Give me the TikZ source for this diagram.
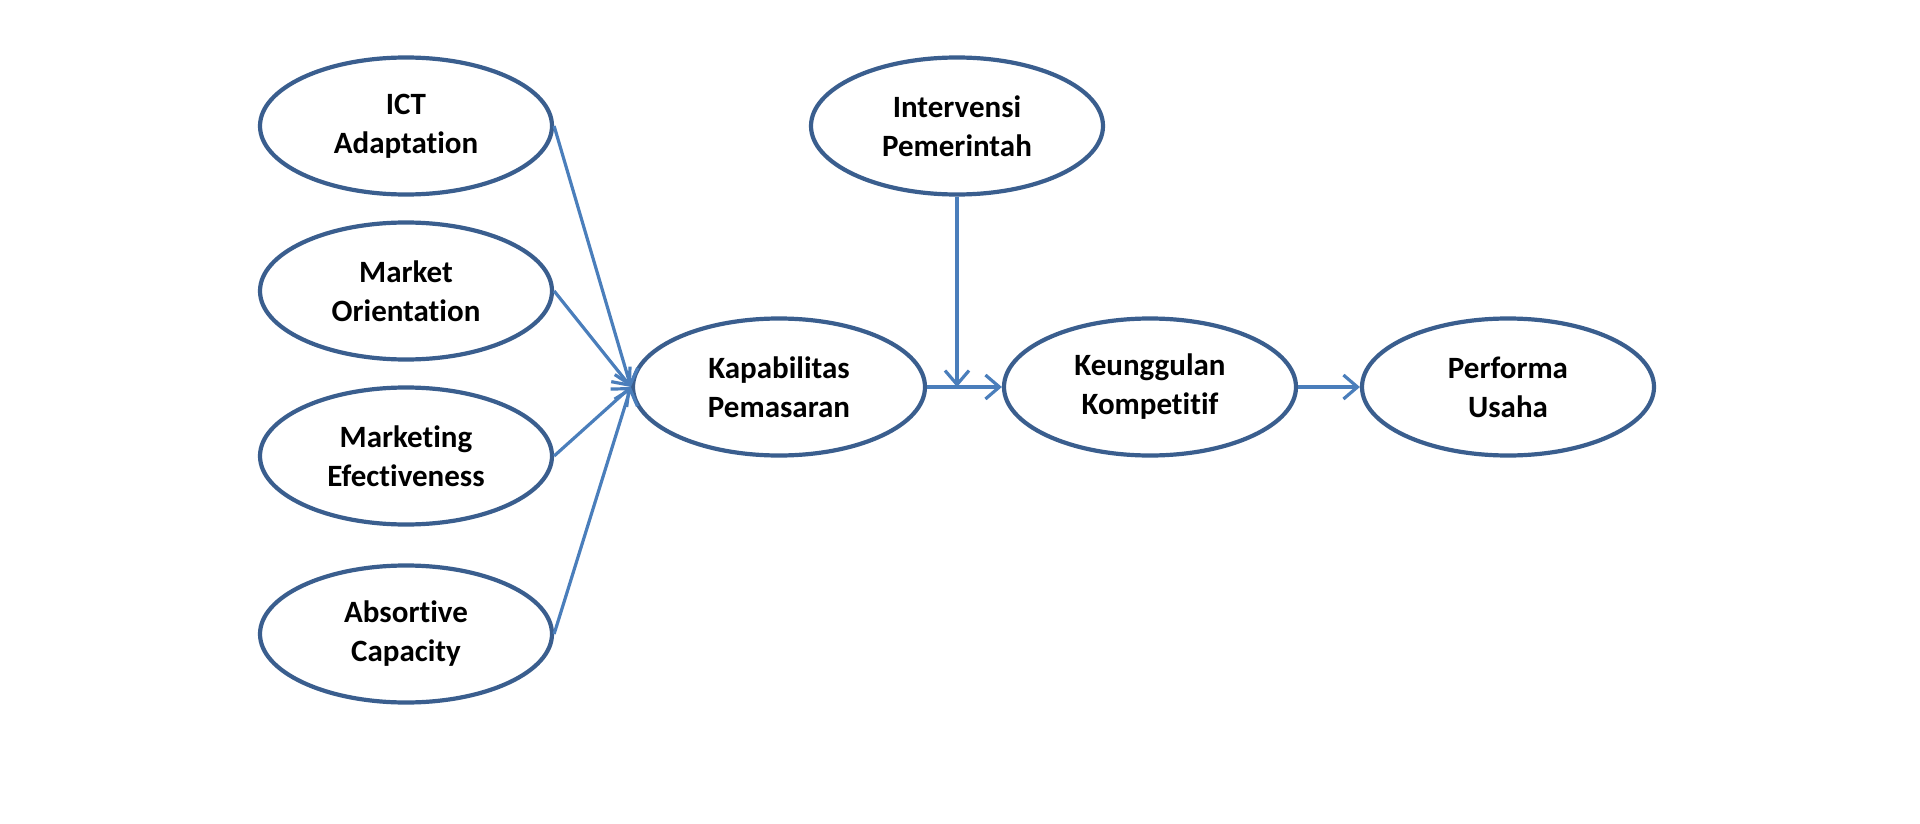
\documentclass[tikz,border=0pt]{standalone}
\usepackage{fontspec}
\setmainfont[Ligatures=NoCommon]{Carlito}
\usetikzlibrary{shapes.geometric,arrows.meta}
\definecolor{ellborder}{RGB}{58,94,142}
\definecolor{arrowblue}{RGB}{74,126,187}
\tikzset{
  var/.style={ellipse, draw=ellborder, line width=4.2pt, fill=white,
    minimum width=292pt, minimum height=137pt, inner sep=0pt, align=center,
    font=\fontsize{31pt}{39pt}\selectfont\bfseries},
  conn/.style={draw=arrowblue, line width=3.2pt,
    -{Straight Barb[length=14pt,width=24pt,line width=3.2pt]}}
}
\begin{document}
\begin{tikzpicture}[x=1pt,y=-1pt]
\useasboundingbox (0,0) rectangle (1920,824);
\fill[white] (0,0) rectangle (1920,824);
\node[var] (ict) at (406,126) {ICT\\Adaptation};
\node[var] (mo) at (406,291) {Market\\Orientation};
\node[var] (me) at (406,456) {Marketing\\Efectiveness};
\node[var] (ac) at (406,634) {Absortive\\Capacity};
\node[var] (kap) at (779,387) {Kapabilitas\\Pemasaran};
\node[var] (int) at (957,126) {Intervensi\\Pemerintah};
\node[var] (keu) at (1150,387) {Keunggulan\\Kompetitif};
\node[var] (per) at (1508,387) {Performa\\Usaha};
\coordinate (m) at (int.south |- kap.east);
\draw[conn] (ict.east) -- (kap.west);
\draw[conn] (mo.east) -- (kap.west);
\draw[conn] (me.east) -- (kap.west);
\draw[conn] (ac.east) -- (kap.west);
\draw[conn] (kap.east) -- (keu.west);
\draw[conn] (int.south) -- (m);
\draw[conn] (keu.east) -- (per.west);
\end{tikzpicture}
\end{document}
